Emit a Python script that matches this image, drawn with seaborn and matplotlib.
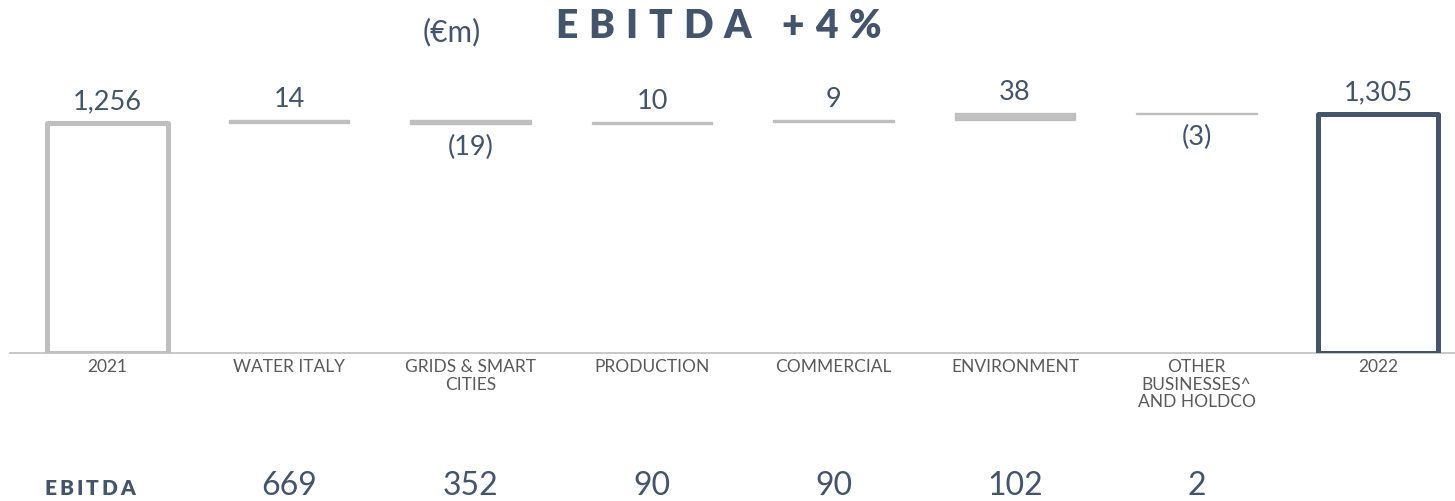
import numpy as np
import pandas as pd
import matplotlib
matplotlib.use("Agg")
import matplotlib.pyplot as plt
import seaborn as sns

# ---- data -------------------------------------------------------------
categories = ["2021", "WATER ITALY", "GRIDS & SMART\nCITIES", "PRODUCTION",
              "COMMERCIAL", "ENVIRONMENT", "OTHER\nBUSINESSES^\nAND HOLDCO", "2022"]
start_total = 1256
deltas = [14, -19, 10, 9, 38, -3]
end_total = 1305
segment_ebitda = [669, 352, 90, 90, 102, 2]

# ---- styling ----------------------------------------------------------
NAVY = "#44546A"
GREY = "#BFBFBF"
TICK = "#595959"

sns.set_theme(style="white")
plt.rcParams["font.family"] = ["Lato", "DejaVu Sans"]

# ---- waterfall geometry -----------------------------------------------
levels = np.cumsum([start_total] + deltas)
bottoms = [0] + [min(levels[i], levels[i + 1]) for i in range(len(deltas))] + [0]
heights = [start_total] + [abs(d) for d in deltas] + [end_total]
labels = ([f"{start_total:,}"]
          + [f"{d}" if d >= 0 else f"({-d})" for d in deltas]
          + [f"{end_total:,}"])
df = pd.DataFrame({"step": categories, "height": heights})

W, H = 1455, 501
fig = plt.figure(figsize=(W / 100, H / 100), dpi=100)
ax = fig.add_axes([10 / W, 148 / H, (W - 10) / W, 293 / H])

sns.barplot(data=df, x="step", y="height", bottom=bottoms, color=GREY,
            saturation=1, width=0.665, errorbar=None, ax=ax)

n = len(categories)
for i, p in enumerate(ax.patches):
    if i == 0 or i == n - 1:
        p.set_facecolor("white")
        p.set_edgecolor(GREY if i == 0 else NAVY)
        p.set_linewidth(3.6)
        p.set_joinstyle("round")
        p.set_zorder(3)
    else:
        p.set_edgecolor(GREY)
        p.set_linewidth(1.0)

# value labels
for i, p in enumerate(ax.patches):
    cx = p.get_x() + p.get_width() / 2
    neg = 0 < i < n - 1 and deltas[i - 1] < 0
    if neg:
        ax.annotate(labels[i], (cx, p.get_y()), xytext=(0, -8),
                    textcoords="offset points", ha="center", va="top",
                    fontsize=19.5, color=NAVY)
    else:
        ax.annotate(labels[i], (cx, p.get_y() + p.get_height()), xytext=(0, 6),
                    textcoords="offset points", ha="center", va="bottom",
                    fontsize=19.5, color=NAVY)

ax.set_xlim((10 - 107.5) / 181.5, (W - 107.5) / 181.5)
ax.set_ylim(0, 1600)
ax.set_xlabel("")
ax.set_ylabel("")
ax.set_yticks([])
for s in ("top", "right", "left"):
    ax.spines[s].set_visible(False)
ax.spines["bottom"].set_color(GREY)
ax.spines["bottom"].set_linewidth(1.2)
ax.tick_params(axis="x", length=0, pad=4, labelsize=12.5, labelcolor=TICK)
for t in ax.get_xticklabels():
    t.set_linespacing(1.15)


def tracked_text(cx, baseline, s, track, space, **kw):
    """Draw letter-spaced text centred on cx, in pixel coordinates."""
    r = fig.canvas.get_renderer()
    items = []
    for ch in s:
        if ch == " ":
            items.append((None, space))
            continue
        t = fig.text(0, 0, ch, transform=None, ha="left", va="baseline", **kw)
        items.append((t, t.get_window_extent(r).width))
    total = sum(w for _, w in items) + track * (len(items) - 1)
    x = cx - total / 2
    for t, w in items:
        if t is not None:
            t.set_position((x, baseline))
        x += w + track


# headline
fig.text(452, H - 41, "(€m)", transform=None, ha="center", va="baseline",
         fontsize=21.5, color=NAVY)
tracked_text(718, H - 38, "EBITDA +4%", 11, 8, fontsize=28,
             fontweight="heavy", color=NAVY)

# segment EBITDA row
tracked_text(90, H - 495, "EBITDA", 3, 0, fontsize=15,
             fontweight="heavy", color=NAVY)
for i, v in enumerate(segment_ebitda):
    xd = ax.transData.transform((i + 1, 0))[0]
    fig.text(xd, H - 495, f"{v}", transform=None, ha="center", va="baseline",
             fontsize=23, color=NAVY)

fig.savefig("out.png", dpi=100)
